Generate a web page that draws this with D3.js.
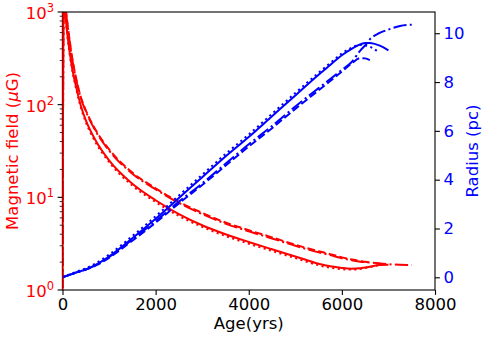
<!DOCTYPE html>
<html>
<head>
<meta charset="utf-8">
<script src="https://cdn.jsdelivr.net/npm/d3@7"></script>
<style>
  body { margin: 0; background: #fff; }
  svg { font-family: "DejaVu Sans", sans-serif; }
</style>
</head>
<body>
<div id="chart"></div>
<script>
// Data
var ages = [0, 25, 60, 100, 200, 300, 400, 500, 700, 1000, 1500, 2000, 2500, 3000, 3500, 4000, 4500, 5000, 5500, 5750, 6000, 6200, 6400, 6500, 6600, 6800, 7000, 7250, 7500];

// magnetic field (uG), one array per run, null where the run has ended
var bSolid  = [0.001, 1300, 950, 600, 260, 150, 95, 68, 42, 25, 14, 9.3, 6.6, 5.0, 4.0, 3.3, 2.75, 2.3, 1.92, 1.8, 1.73, 1.7, 1.72, 1.75, 1.78, 1.86, 1.87, null, null];
var bDotted = [0.001, 1250, 910, 575, 250, 144, 91, 65, 40, 24, 13.4, 8.9, 6.3, 4.8, 3.83, 3.16, 2.64, 2.21, 1.85, 1.74, 1.68, 1.66, 1.69, 1.73, 1.77, 1.85, null, null, null];
var bDashed = [0.001, 1540, 1180, 800, 340, 185, 118, 87, 54.5, 33, 18.5, 12.5, 8.95, 6.8, 5.35, 4.42, 3.7, 3.08, 2.62, 2.44, 2.25, 2.14, 2.05, 2.02, 1.98, null, null, null, null];
var bDashDot = [0.001, 1500, 1150, 780, 330, 180, 115, 85, 53, 32, 18, 12.2, 8.7, 6.6, 5.2, 4.3, 3.6, 3.0, 2.55, 2.38, 2.2, 2.1, 2.02, 2.0, 1.98, 1.94, 1.9, 1.87, 1.86];

// radius (pc)
var rSolid  = [0, 0.02, 0.04, 0.07, 0.13, 0.2, 0.26, 0.32, 0.5, 0.85, 1.6, 2.4, 3.25, 4.1, 4.95, 5.75, 6.6, 7.45, 8.3, 8.7, 9.1, 9.35, 9.55, 9.6, 9.6, 9.5, 9.3, null, null];
var rDotted = [0, 0.02, 0.04, 0.08, 0.15, 0.23, 0.3, 0.37, 0.56, 0.93, 1.69, 2.5, 3.35, 4.2, 5.05, 5.85, 6.7, 7.55, 8.38, 8.78, 9.17, 9.4, 9.52, 9.5, 9.45, 9.2, null, null, null];
var rDashed = [0, 0.02, 0.04, 0.07, 0.13, 0.2, 0.26, 0.32, 0.47, 0.8, 1.5, 2.24, 3.03, 3.78, 4.57, 5.36, 6.11, 6.9, 7.66, 8.04, 8.43, 8.75, 8.98, 8.97, 8.9, null, null, null, null];
var rDashDot = [0, 0.02, 0.04, 0.07, 0.13, 0.2, 0.26, 0.32, 0.49, 0.83, 1.55, 2.3, 3.1, 3.85, 4.65, 5.45, 6.2, 7.0, 7.75, 8.12, 8.5, 8.8, 9.3, 9.5, 9.75, 10.0, 10.15, 10.3, 10.35];

var xTicks = [0, 2000, 4000, 6000, 8000];
var bTicks = [0, 1, 2, 3];   // powers of ten
var rTicks = [0, 2, 4, 6, 8, 10];

var styles = {solid: null, dotted: "2.1,3.4", dashed: "7.7,3.3", dashdot: "13.3,3.3,2.1,3.3"};

// Placement
var W = 488, H = 338,
  pLeft = 62.5, pRight = 435, pTop = 12, pBottom = 290;

var svg = d3.select("#chart").append("svg")
  .attr("width", W)
  .attr("height", H);

var x = d3.scaleLinear().domain([0, 8000]).range([pLeft, pRight]);
var yB = d3.scaleLog().domain([1, 1000]).range([pBottom, pTop]);
var yR = d3.scaleLinear().domain([-0.52, 10.87]).range([pBottom, pTop]);

svg.append("clipPath").attr("id", "clip")
  .append("rect")
  .attr("x", pLeft).attr("y", pTop)
  .attr("width", pRight - pLeft).attr("height", pBottom - pTop);

var plot = svg.append("g").attr("clip-path", "url(#clip)");

function drawLine(vals, yScale, color, dash, isLog) {
  var pts = ages.map(function(a, i) { return [a, vals[i]]; })
    .filter(function(d) { return d[1] !== null; });
  var line = d3.line()
    .x(function(d) { return x(d[0]); })
    .y(function(d) { return isLog ? Math.min(yScale(Math.max(d[1], 0.3)), pBottom + 20) : yScale(d[1]); })
    .curve(d3.curveMonotoneX);
  plot.append("path")
    .attr("d", line(pts))
    .attr("fill", "none")
    .attr("stroke", color)
    .attr("stroke-width", 2)
    .attr("stroke-dasharray", dash);
}

drawLine(bSolid, yB, "#ff0000", styles.solid, true);
drawLine(bDotted, yB, "#ff0000", styles.dotted, true);
drawLine(bDashed, yB, "#ff0000", styles.dashed, true);
drawLine(bDashDot, yB, "#ff0000", styles.dashdot, true);

drawLine(rSolid, yR, "#0000ff", styles.solid, false);
drawLine(rDotted, yR, "#0000ff", styles.dotted, false);
drawLine(rDashed, yR, "#0000ff", styles.dashed, false);
drawLine(rDashDot, yR, "#0000ff", styles.dashdot, false);

// frame
svg.append("rect")
  .attr("x", pLeft).attr("y", pTop)
  .attr("width", pRight - pLeft).attr("height", pBottom - pTop)
  .attr("fill", "none")
  .attr("stroke", "#000")
  .attr("stroke-width", 1.1);
// the red start segment sits on the left spine
svg.append("line")
  .attr("x1", pLeft).attr("x2", pLeft)
  .attr("y1", pTop).attr("y2", pBottom)
  .attr("stroke", "#b00000")
  .attr("stroke-width", 1.3);

// x axis
var xAxis = d3.axisBottom(x).tickValues(xTicks).tickSize(4.9).tickPadding(3.5).tickFormat(d3.format("d"));
var gx = svg.append("g")
  .attr("transform", "translate(0," + pBottom + ")")
  .call(xAxis);
gx.select(".domain").remove();
gx.selectAll("line").attr("stroke-width", 1.1);
gx.selectAll("text").attr("font-size", 16.5).attr("fill", "#000").attr("font-family", "DejaVu Sans");

// left log axis (major + minor ticks)
var gl = svg.append("g").attr("transform", "translate(" + pLeft + ",0)");
var minors = [];
bTicks.slice(0, -1).forEach(function(p) {
  for (var k = 2; k < 10; k++) minors.push(k * Math.pow(10, p));
});
gl.selectAll(".minor").data(minors).enter().append("line")
  .attr("x1", -2.8).attr("x2", 0)
  .attr("y1", function(d) { return yB(d); })
  .attr("y2", function(d) { return yB(d); })
  .attr("stroke", "#000").attr("stroke-width", 0.8);
gl.selectAll(".major").data(bTicks).enter().append("line")
  .attr("x1", -4.9).attr("x2", 0)
  .attr("y1", function(d) { return yB(Math.pow(10, d)); })
  .attr("y2", function(d) { return yB(Math.pow(10, d)); })
  .attr("stroke", "#000").attr("stroke-width", 1.1);
var lbl = gl.selectAll(".lbl").data(bTicks).enter().append("text")
  .attr("x", -8.5)
  .attr("y", function(d) { return yB(Math.pow(10, d)) + 7; })
  .attr("text-anchor", "end")
  .attr("fill", "#ff0000")
  .attr("font-size", 16.5);
lbl.append("tspan").text("10");
lbl.append("tspan").attr("dy", -7).attr("font-size", 11.5).text(function(d) { return d; });

// right linear axis
var rAxis = d3.axisRight(yR).tickValues(rTicks).tickSize(4.9).tickPadding(3.5);
var gr = svg.append("g")
  .attr("transform", "translate(" + pRight + ",0)")
  .call(rAxis);
gr.select(".domain").remove();
gr.selectAll("line").attr("stroke", "#000").attr("stroke-width", 1.1);
gr.selectAll("text").attr("font-size", 16.5).attr("fill", "#0000ff").attr("font-family", "DejaVu Sans");

// axis titles
svg.append("text")
  .attr("x", (pLeft + pRight) / 2).attr("y", 329)
  .attr("text-anchor", "middle")
  .attr("font-size", 16.5)
  .text("Age(yrs)");

svg.append("text")
  .attr("transform", "translate(18," + ((pTop + pBottom) / 2) + ") rotate(-90)")
  .attr("text-anchor", "middle")
  .attr("font-size", 16.5)
  .attr("fill", "#ff0000")
  .html("Magnetic field (<tspan font-style='italic'>μ</tspan>G)");

svg.append("text")
  .attr("transform", "translate(478," + ((pTop + pBottom) / 2) + ") rotate(-90)")
  .attr("text-anchor", "middle")
  .attr("font-size", 16.5)
  .attr("fill", "#0000ff")
  .text("Radius (pc)");
</script>
</body>
</html>
